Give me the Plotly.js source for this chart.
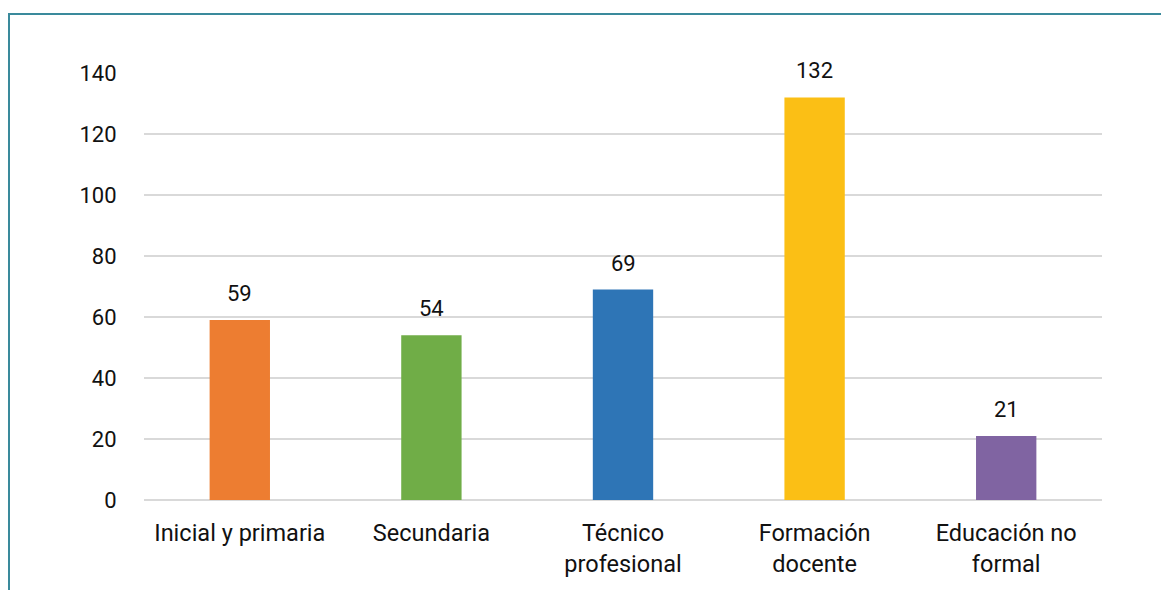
<!DOCTYPE html>
<html><head><meta charset="utf-8">
<script src="https://cdn.plot.ly/plotly-3.0.1.min.js"></script>
<style>
body{margin:0;background:#fff;}
#wrap{position:relative;width:1161px;height:590px;}
#chart{width:1161px;height:590px;}
#frame{position:absolute;left:8px;top:13px;right:0;bottom:0;border-top:2px solid #3A8A9C;border-left:2px solid #3A8A9C;pointer-events:none;}
</style></head>
<body>
<div id="wrap"><div id="chart"></div><div id="frame"></div></div>
<script>
const categories = ["Inicial y primaria", "Secundaria", "Técnico<br>profesional", "Formación<br>docente", "Educación no<br>formal"];
const values = [59, 54, 69, 132, 21];
const colors = ["#ED7D31", "#70AD47", "#2E75B6", "#FBBF15", "#8064A2"];
const yTicks = [0, 20, 40, 60, 80, 100, 120, 140];

const font = {family: "Roboto, 'Open Sans', sans-serif", size: 22, color: "#111"};
const catFont = {family: "Roboto, 'Open Sans', sans-serif", size: 23.5, color: "#111"};

const trace = {
  type: "bar",
  x: categories,
  y: values,
  marker: {color: colors},
  hoverinfo: "none"
};

const annotations = categories.map((c, i) => ({
  x: c, y: values[i], xref: "x", yref: "y",
  text: String(values[i]), showarrow: false,
  yanchor: "bottom", yshift: 12, font: font
}));

const layout = {
  width: 1161, height: 590,
  margin: {l: 144, r: 59, t: 73, b: 90},
  paper_bgcolor: "#fff", plot_bgcolor: "#fff",
  bargap: 0.685,
  showlegend: false,
  font: font,
  xaxis: {
    type: "category", showgrid: false, zeroline: false, showline: false,
    ticks: "outside", ticklen: 12, tickcolor: "rgba(0,0,0,0)",
    tickfont: catFont
  },
  yaxis: {
    range: [0, 140], tickvals: yTicks, ticktext: yTicks.map(String),
    showgrid: true, gridcolor: "#D9D9D9", gridwidth: 1.5,
    zeroline: true, zerolinecolor: "#D9D9D9", zerolinewidth: 1.5,
    showline: false, ticks: "outside", ticklen: 22, tickcolor: "rgba(0,0,0,0)",
    tickfont: font
  },
  annotations: annotations
};

Plotly.newPlot("chart", [trace], layout, {displayModeBar: false, staticPlot: true});
</script>
</body></html>
